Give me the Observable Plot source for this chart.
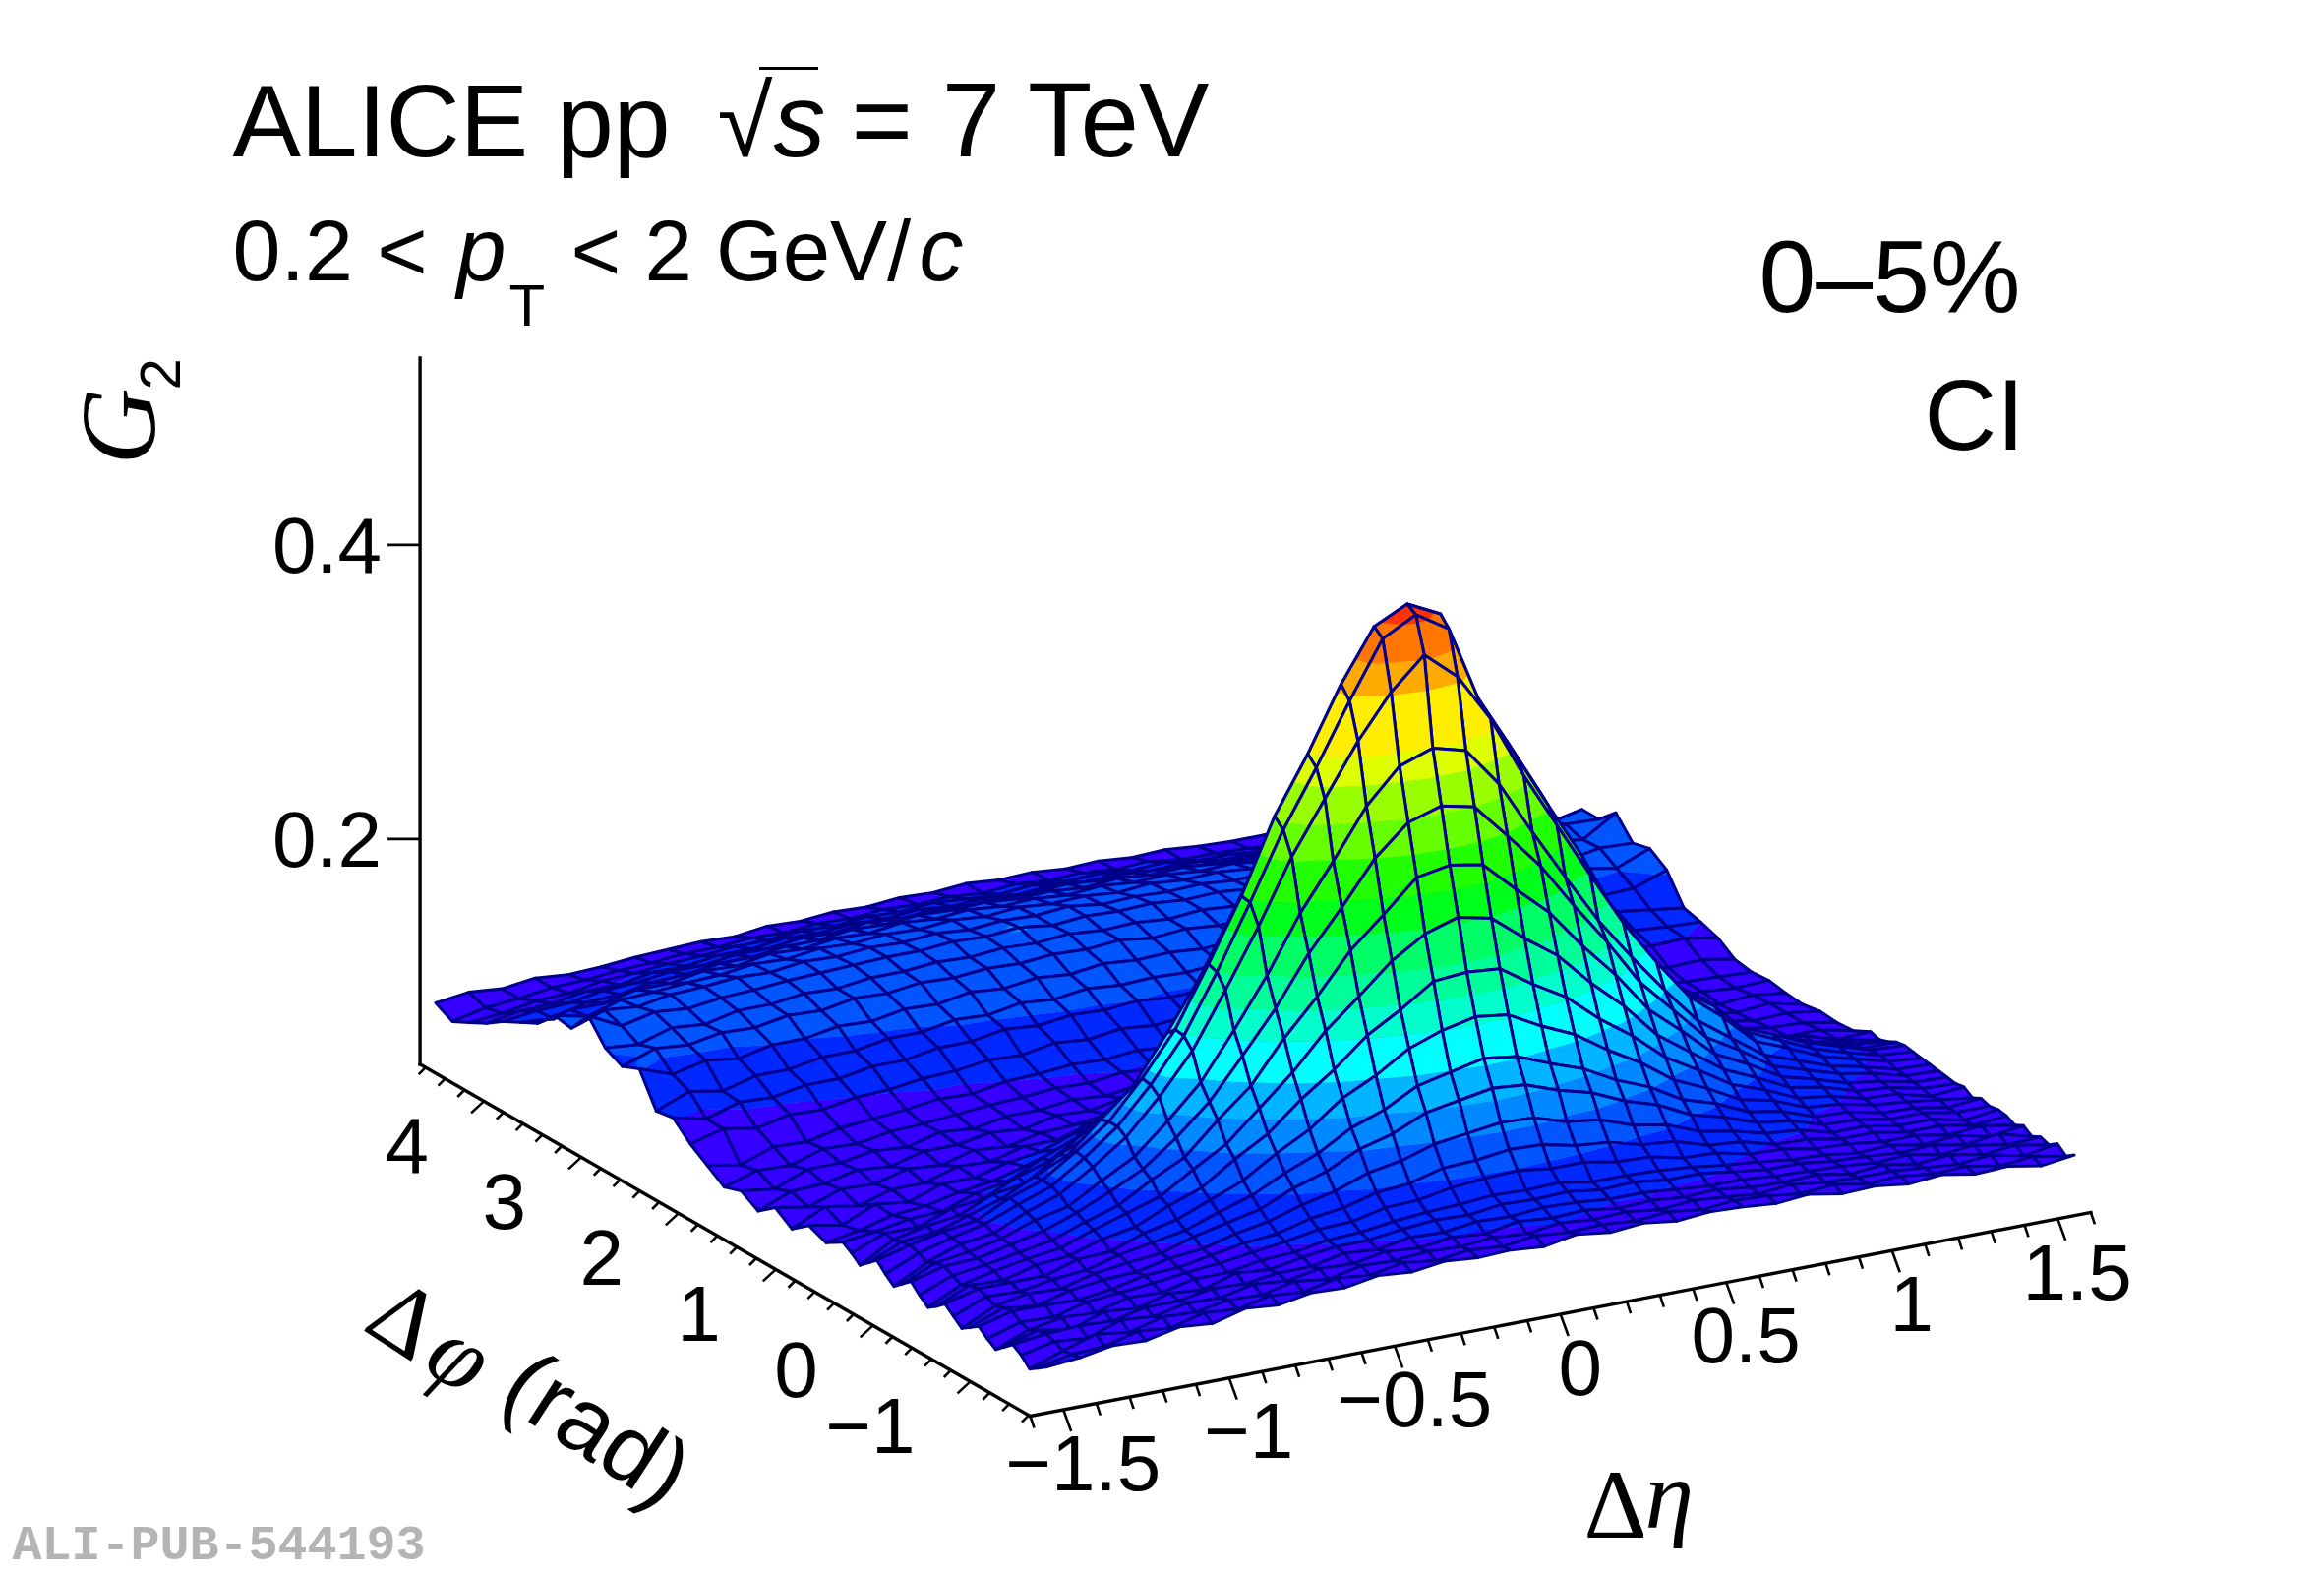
<!DOCTYPE html>
<html>
<head>
<meta charset="utf-8">
<style>html,body{margin:0;padding:0;background:#fff}svg{display:block}</style>
<script src="https://cdn.jsdelivr.net/npm/d3@7"></script>
<script src="https://cdn.jsdelivr.net/npm/@observablehq/plot@0.6"></script>
</head>
<body>
<div id="chart"></div>
<script>
// Grid nodes
const etaNodes = [-1.55,-1.45,-1.35,-1.25,-1.15,-1.05,-0.95,-0.85,-0.75,-0.65,-0.55,-0.45,-0.35,-0.25,-0.15,-0.05,0.05,0.15,0.25,0.35,0.45,0.55,0.65,0.75,0.85,0.95,1.05,1.15,1.25,1.35,1.45,1.55];
const phiNodes = [-1.616,-1.529,-1.441,-1.354,-1.267,-1.179,-1.092,-1.005,-0.918,-0.830,-0.743,-0.656,-0.569,-0.481,-0.394,-0.307,-0.220,-0.132,-0.045,0.042,0.130,0.217,0.304,0.391,0.479,0.653,0.828,1.002,1.177,1.351,1.526,1.700,1.875,2.049,2.224,2.398,2.573,2.748,2.922,3.097,3.271,3.446,3.620,3.795,3.969,4.144,4.318,4.493,4.667];
// G2 x 1000, one row per phi node, one column per eta node
const g2PerMille = [
[78,80,84,83,88,86,92,90,94,93,97,95,98,96,97,95,99,96,98,95,97,96,94,96,92,93,90,92,88,89,85,88],
[74,79,80,86,84,90,88,93,91,96,94,98,95,98,96,99,97,98,96,98,95,97,96,93,95,91,92,89,90,86,88,84],
[70,78,85,82,88,87,91,90,95,92,97,96,98,97,99,97,100,98,99,96,98,96,94,96,93,92,92,90,88,90,85,89],
[76,81,79,87,85,90,89,94,92,96,95,99,97,100,98,102,100,101,98,99,97,98,95,94,95,91,93,89,91,87,89,85],
[80,83,84,83,88,88,92,91,94,94,99,97,101,100,103,102,104,103,101,101,99,97,97,95,94,93,91,92,88,90,86,87],
[75,82,78,86,84,90,88,95,93,97,100,100,103,105,104,107,106,107,104,105,102,102,99,96,96,93,92,90,91,87,90,84],
[70,79,83,82,88,87,92,92,96,97,101,102,105,107,108,110,109,110,106,106,105,103,100,98,95,94,91,92,88,90,85,88],
[74,81,80,86,88,90,93,95,98,101,105,106,111,112,116,118,119,116,116,112,111,106,105,100,99,95,94,91,91,87,89,85],
[79,85,85,84,87,92,93,97,101,103,109,112,118,120,126,127,130,129,124,122,116,114,107,105,99,98,94,94,90,90,86,88],
[75,84,81,87,90,91,96,98,104,108,115,120,128,132,139,142,145,144,137,134,126,122,113,109,103,101,95,95,91,91,86,89],
[71,82,86,85,91,94,96,103,108,113,123,130,141,147,157,161,165,163,155,149,139,132,121,115,107,104,97,96,92,92,88,88],
[76,85,84,88,90,96,100,104,112,119,130,139,152,160,172,177,182,179,170,162,150,141,128,121,111,107,99,98,93,92,88,90],
[81,87,87,87,94,95,103,108,117,126,140,152,169,180,194,202,207,204,192,182,167,154,138,128,116,111,102,100,95,93,90,87],
[76,86,85,91,93,100,104,114,122,137,150,169,185,204,217,232,234,232,217,204,185,169,150,137,123,115,105,102,96,95,89,91],
[72,83,88,92,95,103,110,117,131,144,164,184,208,227,247,261,268,263,245,229,206,186,162,146,130,120,109,105,98,96,91,90],
[77,86,89,93,97,105,112,125,136,157,176,204,228,255,275,296,300,296,275,255,228,204,176,157,137,126,113,107,100,97,92,91],
[83,89,90,95,100,108,118,129,146,166,193,221,254,281,310,330,337,332,308,283,252,223,191,168,145,132,117,110,103,99,93,92],
[78,88,91,96,104,109,122,134,154,176,207,240,278,309,342,365,373,367,340,303,268,234,205,178,153,137,121,113,105,100,94,93],
[73,85,93,96,106,114,128,144,167,194,231,270,313,348,383,412,433,414,381,338,300,262,225,194,166,148,127,118,108,102,96,94],
[78,88,94,99,108,116,131,148,172,201,240,283,328,366,407,445,457,443,385,349,310,272,229,197,167,152,130,120,110,103,97,95],
[84,90,95,98,109,117,132,148,173,202,242,284,334,372,415,450,461,450,393,355,316,273,231,198,168,153,130,121,111,104,97,96],
[79,89,91,98,105,116,126,146,165,196,230,270,312,347,382,411,431,409,361,331,295,260,220,190,163,147,128,117,108,103,95,95],
[74,87,92,95,105,108,123,133,155,175,208,239,279,308,343,364,372,362,325,294,264,231,199,172,151,135,122,112,106,99,95,92],
[79,88,88,96,99,109,116,130,145,168,191,223,252,283,308,332,336,326,295,267,242,212,186,162,144,130,118,108,105,97,94,90],
[83,86,90,91,99,103,114,123,138,155,178,202,230,253,277,294,302,292,261,243,218,197,169,153,133,127,112,108,99,98,91,92],
[76,80,86,88,93,96,102,109,116,127,139,153,168,181,193,204,205,202,194,180,169,152,140,126,118,109,103,98,97,91,91,86],
[81,77,87,84,92,92,98,101,109,112,124,129,142,146,158,160,166,161,157,147,141,130,123,113,108,103,98,94,94,90,89,85],
[72,83,79,86,86,93,92,98,98,105,107,114,116,122,124,129,128,128,126,120,118,112,109,103,101,96,96,92,92,88,89,86],
[80,76,84,83,89,87,93,91,96,97,100,101,102,105,105,107,106,108,104,106,101,103,98,97,95,93,92,90,90,87,89,84],
[71,80,81,86,84,90,90,94,92,97,96,100,99,101,99,102,101,100,100,98,99,96,97,93,95,90,93,88,91,86,88,85],
[78,75,84,84,88,86,92,90,94,94,97,95,98,97,99,96,98,97,98,95,98,96,94,95,92,92,90,91,88,88,86,87],
[74,81,80,87,86,90,91,93,95,96,98,97,100,98,99,99,97,100,98,99,97,98,95,96,93,93,91,92,89,88,87,86],
[82,78,86,85,90,92,94,97,96,100,101,103,102,104,102,103,104,102,103,101,103,101,100,99,98,96,95,94,92,91,92,88],
[90,96,92,97,96,100,101,104,105,108,107,111,109,112,110,112,110,111,109,112,109,110,107,108,105,104,102,103,100,99,100,96],
[101,96,103,102,106,106,110,110,114,114,118,116,119,118,120,118,119,117,119,117,118,116,115,113,112,110,109,107,106,103,101,100],
[99,108,104,110,110,114,114,118,118,122,121,125,123,126,124,125,124,126,123,125,122,124,121,120,118,116,115,112,110,109,106,103],
[121,113,118,115,120,120,124,123,127,126,130,128,131,129,132,130,131,129,131,128,130,128,127,125,124,122,120,118,116,113,114,122],
[116,124,122,126,125,129,128,132,131,134,133,135,134,136,135,137,134,136,134,135,133,134,131,131,129,127,126,124,122,125,121,130],
[122,120,127,125,130,130,133,132,135,135,137,136,138,137,139,137,138,136,138,136,137,135,135,133,132,131,129,128,126,124,128,127],
[137,126,131,129,132,133,135,136,137,138,138,140,139,141,138,140,139,140,138,139,137,138,136,136,134,133,132,130,128,130,127,141],
[122,130,128,132,133,135,134,137,136,138,137,139,137,139,138,140,137,138,137,138,136,137,135,134,134,131,132,129,130,127,131,130],
[124,119,126,127,129,130,133,132,135,134,136,135,137,135,137,135,136,134,136,134,135,133,133,131,131,129,129,127,127,126,125,130],
[112,117,117,122,122,126,125,129,128,131,130,133,131,133,131,132,130,132,130,131,129,130,127,127,125,124,122,121,119,118,115,113],
[106,104,111,112,116,117,120,120,123,123,126,125,127,126,127,125,126,124,126,124,125,123,122,120,120,117,117,114,113,110,108,105],
[100,103,104,108,109,112,112,115,115,118,117,120,118,120,118,119,118,120,118,119,117,118,115,115,113,112,110,108,106,105,102,99],
[92,96,97,101,101,105,105,108,108,111,110,112,111,113,111,112,110,112,110,111,109,110,107,107,105,104,102,100,99,97,96,93],
[86,88,92,93,97,98,100,101,103,103,105,104,106,105,107,105,104,106,104,105,103,104,101,101,99,98,97,95,94,92,91,89],
[80,85,87,90,91,93,94,96,96,98,97,99,98,100,99,100,98,100,98,99,97,98,95,95,94,92,92,90,89,88,86,85],
[86,89,87,90,88,89,91,92,93,92,95,94,96,95,97,96,98,96,97,95,96,94,95,93,92,92,90,91,88,89,86,87]
];
// Contour bands
const contourLevels = [0.10,0.12,0.14,0.158,0.178,0.202,0.22,0.24,0.264,0.285,0.31,0.332,0.355,0.373,0.41,0.43,0.452];
const contourColors = ["#3500ff","#0028ff","#0055ff","#0088ff","#00b4ff","#00ffff","#00ffcc","#00ff99","#00ff66","#00ff1a","#22ff00","#66ff00","#99ff00","#ddff00","#ffee00","#ffaa00","#ff7700","#ff3300"];
const meshColor = "#00008b";
// Axes
const etaTicksMajor = [-1.5,-1,-0.5,0,0.5,1,1.5];
const etaTickLabels = ["−1.5","−1","−0.5","0","0.5","1","1.5"];
const etaTicksMinor = [-1.6,-1.4,-1.3,-1.2,-1.1,-0.9,-0.8,-0.7,-0.6,-0.4,-0.3,-0.2,-0.1,0.1,0.2,0.3,0.4,0.6,0.7,0.8,0.9,1.1,1.2,1.3,1.4,1.6];
const phiTicksMajor = [-1,0,1,2,3,4];
const phiTickLabels = ["−1","0","1","2","3","4"];
const phiTicksMinor = [-1.6,-1.4,-1.2,-0.8,-0.6,-0.4,-0.2,0.2,0.4,0.6,0.8,1.2,1.4,1.6,1.8,2.2,2.4,2.6,2.8,3.2,3.4,3.6,3.8,4.2,4.4,4.6];
const zTicks = [0.2,0.4];
const zTickLabels = ["0.2","0.4"];

// Parallel projection of the box
const ETA0 = -1.6, PHI0 = -1.616, Z0 = 0.0468, ZTOP = 0.527;
const project = (eta, phi, z) => ({
  x: 1047 + (eta - ETA0) * 337 - (phi - PHI0) * 98.9,
  y: 1439 - (eta - ETA0) * 64.7 - (phi - PHI0) * 57 - (z - Z0) * 1495
});

// Clip a polygon to lo <= z <= hi
function clipAbove(poly, lv, sign) {
  const out = [];
  for (let i = 0; i < poly.length; i++) {
    const a = poly[i], b = poly[(i + 1) % poly.length];
    const ia = sign * (a.z - lv) >= 0, ib = sign * (b.z - lv) >= 0;
    if (ia) out.push(a);
    if (ia !== ib) {
      const t = (lv - a.z) / (b.z - a.z);
      out.push({eta: a.eta + t * (b.eta - a.eta), phi: a.phi + t * (b.phi - a.phi), z: lv});
    }
  }
  return out;
}

const edges = [-1].concat(contourLevels, [0.9]);
const meshRows = [];
let pid = 0;
function pushPoly(poly, level, fo, sw, close) {
  pid++;
  const pts = close ? poly.concat([poly[0]]) : poly;
  for (const v of pts) {
    const p = project(v.eta, v.phi, v.z);
    meshRows.push({x: p.x, y: p.y, poly: pid, level, fo, sw});
  }
}
for (let i = phiNodes.length - 2; i >= 0; i--) {
  for (let j = etaNodes.length - 2; j >= 0; j--) {
    const cell = [[i,j],[i,j+1],[i+1,j+1],[i+1,j]].map(([a,b]) => ({eta: etaNodes[b], phi: phiNodes[a], z: g2PerMille[a][b] / 1000}));
    if (cell.some(c => !(c.z > 0))) continue;
    for (let k = 0; k < edges.length - 1; k++) {
      let poly = clipAbove(cell, edges[k], 1);
      if (poly.length) poly = clipAbove(poly, edges[k + 1], -1);
      if (poly.length >= 3) pushPoly(poly, (Math.max(edges[k], 0) + Math.min(edges[k + 1], 0.5)) / 2, 1, 0.8, false);
    }
    pushPoly(cell, 2, 0, 3, true);
  }
}

// Axis geometry derived from the projection
const axisLines = [
  [project(ETA0, PHI0, Z0), project(1.6, PHI0, Z0)],
  [project(ETA0, PHI0, Z0), project(ETA0, 4.657, Z0)],
  [project(ETA0, 4.657, Z0), project(ETA0, 4.657, ZTOP)]
].flatMap((seg, id) => seg.map(p => ({...p, id})));
const tickOf = (p, dx, dy) => ({x1: p.x, y1: p.y, x2: p.x + dx, y2: p.y + dy});
const ticks = [
  ...etaTicksMajor.map(v => tickOf(project(v, PHI0, Z0), 8, 22)),
  ...etaTicksMinor.map(v => tickOf(project(v, PHI0, Z0), 4, 12)),
  ...phiTicksMajor.map(v => tickOf(project(ETA0, v, Z0), -13, 12)),
  ...phiTicksMinor.map(v => tickOf(project(ETA0, v, Z0), -7, 7)),
  ...zTicks.map(v => tickOf(project(ETA0, 4.657, v), -33, 0))
];
const etaLabels = etaTicksMajor.map((v, i) => ({...project(v, PHI0, Z0), t: etaTickLabels[i]}));
const phiLabels = phiTicksMajor.map((v, i) => ({...project(ETA0, v, Z0), t: phiTickLabels[i]}));
const zLabels = zTicks.map((v, i) => ({...project(ETA0, 4.657, v), t: zTickLabels[i]}));

const SANS = "'Liberation Sans', Arial, sans-serif";
const SERIF = "'Liberation Serif', 'Times New Roman', serif";
function note(text, px, py, size, o = {}) {
  return Plot.text([text], {
    text: d => d, frameAnchor: "top-left", dx: px, dy: py, lineAnchor: "bottom",
    textAnchor: "start", fontSize: size, fontFamily: SANS, fill: "black", ...o
  });
}

const chart = Plot.plot({
  width: 2363, height: 1600, margin: 0,
  style: {background: "white"},
  x: {domain: [0, 2363], axis: null},
  y: {domain: [1600, 0], axis: null},
  color: {type: "threshold", domain: contourLevels.concat([1]), range: contourColors.concat([meshColor])},
  opacity: {type: "linear", domain: [0, 1], range: [0, 1]},
  marks: [
    Plot.line(axisLines, {x: "x", y: "y", z: "id", stroke: "black", strokeWidth: 3.4, strokeLinecap: "square"}),
    Plot.link(ticks, {x1: "x1", y1: "y1", x2: "x2", y2: "y2", stroke: "black", strokeWidth: 2.6}),
    Plot.line(meshRows, {x: "x", y: "y", z: "poly", fill: "level", stroke: "level", fillOpacity: "fo", strokeWidth: "sw", curve: "linear", strokeLinejoin: "round"}),
    Plot.text(etaLabels, {x: "x", y: "y", text: "t", dx: 20, dy: 56, fontSize: 80, fontFamily: SANS, fill: "black"}),
    Plot.text(phiLabels, {x: "x", y: "y", text: "t", dx: -56, dy: 47, textAnchor: "end", fontSize: 80, fontFamily: SANS, fill: "black"}),
    Plot.text(zLabels, {x: "x", y: "y", text: "t", dx: -39, dy: 2, textAnchor: "end", fontSize: 80, fontFamily: SANS, fill: "black"}),
    // Title block
    note("ALICE pp", 236, 158, 104),
    note("√", 729, 158, 102),
    Plot.ruleY([69], {x1: 772, x2: 832, stroke: "black", strokeWidth: 3}),
    note("s", 786, 158, 106, {fontStyle: "italic"}),
    note("= 7 TeV", 865, 158, 107),
    note("0.2 <", 236, 284, 88),
    note("p", 464, 284, 90, {fontStyle: "italic"}),
    note("T", 517, 330, 60),
    note("< 2 GeV/", 580, 284, 87),
    note("c", 934, 284, 90, {fontStyle: "italic"}),
    note("0–5%", 2054, 316, 104, {textAnchor: "end"}),
    note("CI", 2058, 456, 102, {textAnchor: "end"}),
    // Axis titles
    note("G", 156, 472, 108, {fontFamily: SERIF, fontStyle: "italic", rotate: -90}),
    note("2", 182, 396, 58, {rotate: -90}),
    note("Δ", 1610, 1562, 100, {fontFamily: SERIF}),
    note("η", 1672, 1552, 100, {fontFamily: SERIF, fontStyle: "italic"}),
    note("Δ", 411, 1341, 100, {fontFamily: SERIF, rotate: 33, textAnchor: "middle", lineAnchor: "middle"}),
    note("φ", 467, 1378, 100, {fontFamily: SERIF, fontStyle: "italic", rotate: 33, textAnchor: "middle", lineAnchor: "middle"}),
    note("(rad)", 606, 1453, 96, {rotate: 33, textAnchor: "middle", lineAnchor: "middle"}),
    note("ALI-PUB-544193", 12, 1584, 50, {fontFamily: "'Liberation Mono', 'DejaVu Sans Mono', monospace", fontWeight: "bold", fill: "#b4b4b4"})
  ]
});
document.getElementById("chart").append(chart);
</script>
</body>
</html>
